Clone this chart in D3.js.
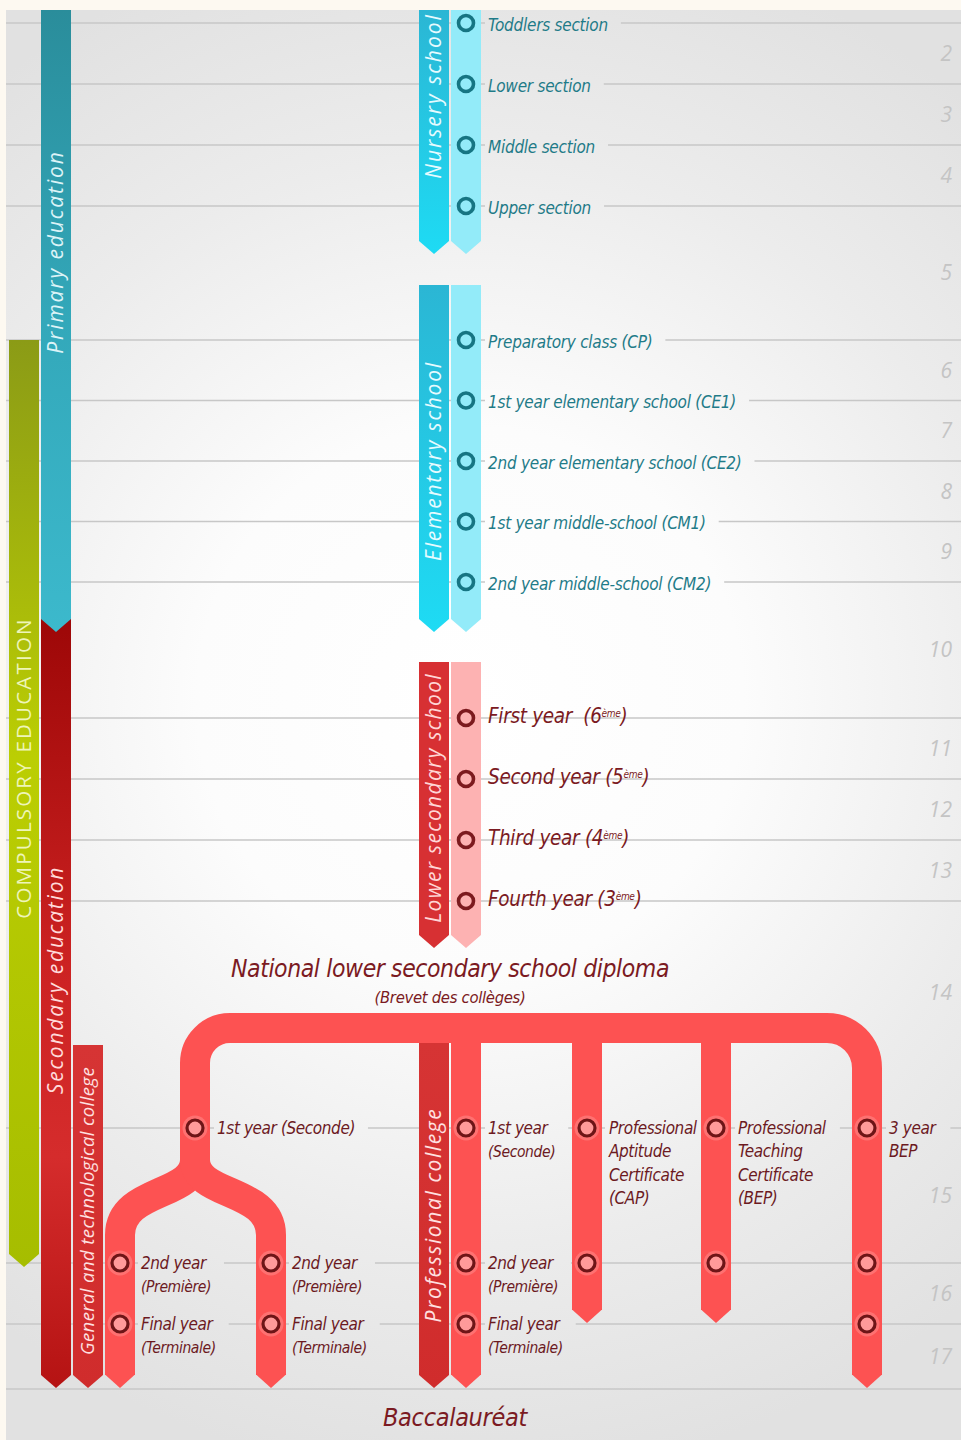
<!DOCTYPE html>
<html>
<head>
<meta charset="utf-8">
<script src="https://cdnjs.cloudflare.com/ajax/libs/d3/7.8.5/d3.min.js"></script>
<style>
body { margin: 0; background: #fdf9f1; }
svg { display: block; }
</style>
</head>
<body>
<svg id="chart" width="961" height="1440"></svg>
<script>
// ages shown on the right, one per school year row
var ages = d3.range(2, 18);

// nursery school
var nurseryRows = ["Toddlers section", "Lower section", "Middle section", "Upper section"];
var nurseryAges = [2, 3, 4, 5];

// elementary school
var elemRows = ["Preparatory class (CP)", "1st year elementary school (CE1)", "2nd year elementary school (CE2)",
                "1st year middle-school (CM1)", "2nd year middle-school (CM2)"];
var elemAges = [6, 7, 8, 9, 10];

// lower secondary school (collège)
var collegeRows = ["First year", "Second year", "Third year", "Fourth year"];
var collegeGrades = ["6", "5", "4", "3"];
var collegeAges = [11, 12, 13, 14];

// upper secondary
var lyceeRows = [["1st year", "(Seconde)"], ["2nd year", "(Première)"], ["Final year", "(Terminale)"]];
var lyceeAges = [15, 16, 17];
var vocLabels = [["Professional", "Aptitude", "Certificate", "(CAP)"],
                 ["Professional", "Teaching", "Certificate", "(BEP)"],
                 ["3 year", "BEP"]];
var vocYears = [2, 2, 3];

var W = 961, H = 1440;
var svg = d3.select("#chart");
var defs = svg.append("defs");

// age -> vertical position (the sections are spaced apart)
var y = d3.scaleLinear()
    .domain([2, 5, 6, 10, 11, 14, 15, 16, 17, 18])
    .range([23, 206, 340, 582, 718, 901, 1128, 1263, 1324, 1389]);

var narrow = "'Liberation Sans Narrow','DejaVu Sans Condensed',sans-serif";
var wide = "'Open Sans','Noto Sans',sans-serif";

function vGrad(id, stops) {
    var g = defs.append("linearGradient").attr("id", id)
        .attr("x1", 0).attr("y1", 0).attr("x2", 0).attr("y2", 1);
    stops.forEach(function (s) {
        g.append("stop").attr("offset", s[0]).attr("stop-color", s[1]);
    });
}
vGrad("gPrimary", [[0, "#2a8d9b"], [0.5, "#33a8ba"], [1, "#3cb9cc"]]);
vGrad("gSecondary", [[0, "#9d0707"], [0.45, "#cc2222"], [0.7, "#d52c2c"], [1, "#b51313"]]);
vGrad("gCompulsory", [[0, "#8b9b16"], [0.45, "#bbce03"], [1, "#a6bd00"]]);
vGrad("gNursery", [[0, "#2bb6d4"], [1, "#1edbf4"]]);
vGrad("gRedDark", [[0, "#d63434"], [1, "#d02c2c"]]);

var rg = defs.append("radialGradient").attr("id", "page")
    .attr("gradientUnits", "userSpaceOnUse")
    .attr("cx", 470).attr("cy", 700).attr("r", 780);
[[0, "#ffffff"], [0.35, "#fcfcfc"], [0.7, "#ececec"], [1, "#e1e1e1"]].forEach(function (s) {
    rg.append("stop").attr("offset", s[0]).attr("stop-color", s[1]);
});

svg.append("rect").attr("x", 6).attr("y", 10).attr("width", W - 6).attr("height", H - 10)
    .attr("fill", "url(#page)");

// row lines (masked around the labels later)
var mask = defs.append("mask").attr("id", "lineMask")
    .attr("maskUnits", "userSpaceOnUse").attr("x", 0).attr("y", 0).attr("width", W).attr("height", H);
mask.append("rect").attr("width", W).attr("height", H).attr("fill", "#fff");

svg.append("g").attr("mask", "url(#lineMask)")
    .selectAll("line").data(d3.range(2, 19)).join("line")
    .attr("x1", 6).attr("x2", W)
    .attr("y1", function (d) { return y(d); }).attr("y2", function (d) { return y(d); })
    .attr("stroke", "#c7c7c7").attr("stroke-width", 1.6);

// age numbers
svg.append("g").selectAll("text").data(ages).join("text")
    .attr("x", 952)
    .attr("y", function (d) { return d == 14 ? y(d) + 92 : (y(d) + y(d + 1)) / 2; })
    .attr("dy", "0.35em")
    .attr("text-anchor", "end")
    .style("font-family", wide).style("font-style", "italic").style("font-size", "21px")
    .attr("fill", "#c4c4c4")
    .text(function (d) { return d; });

// ribbon with a chevron end
function ribbon(x0, top, bottom, fill) {
    var w = 30, n = 13;
    var p = d3.path();
    p.moveTo(x0, top); p.lineTo(x0 + w, top); p.lineTo(x0 + w, bottom - n);
    p.lineTo(x0 + w / 2, bottom); p.lineTo(x0, bottom - n); p.closePath();
    return svg.append("path").attr("d", p.toString()).attr("fill", fill);
}
function ribbonLabel(cx, cy, txt, color, size, spacing, italic) {
    svg.append("text")
        .attr("transform", "translate(" + cx + "," + cy + ") rotate(-90)")
        .attr("text-anchor", "middle").attr("dy", "0.35em")
        .style("font-family", wide).style("font-size", size + "px")
        .style("font-style", italic ? "italic" : "normal")
        .style("letter-spacing", spacing + "px")
        .attr("fill", color).text(txt);
}

// left-hand level ribbons
ribbon(9, y(6), y(16) + 4, "url(#gCompulsory)");
ribbonLabel(24, 768, "COMPULSORY EDUCATION", "#eef5b8", 20.5, 2.2, false);
ribbon(41, 618, y(18) - 1, "url(#gSecondary)");
ribbonLabel(56, 980, "Secondary education", "#ffdada", 21, 1.8, true);
ribbon(41, 10, y(10) + 50, "url(#gPrimary)");
ribbonLabel(56, 252, "Primary education", "#dcf3f7", 21, 1.9, true);

// school ribbons: dark label ribbon + light year ribbon
function school(top, bottom, dark, light, label, labelY, labelColor, spacing) {
    ribbon(419, top, bottom, dark);
    ribbon(451, top, bottom, light);
    ribbonLabel(434, labelY, label, labelColor, 21, spacing, true);
}
school(10, y(5) + 48, "url(#gNursery)", "#93ebf9", "Nursery school", 96, "#e6fbff", 2);
school(y(6) - 55, y(10) + 50, "url(#gNursery)", "#93ebf9", "Elementary school", 461, "#e6fbff", 1.8);
school(y(11) - 56, y(14) + 47, "#d73033", "#fdb2b2", "Lower secondary school", 798, "#ffd6d6", 1.3);

var maskTexts = [];

function rowCircle(cx, cy, fill, stroke) {
    svg.append("circle").attr("cx", cx).attr("cy", cy).attr("r", 7.5)
        .attr("fill", fill).attr("stroke", stroke).attr("stroke-width", 3.6);
}

nurseryRows.concat(elemRows).forEach(function (d, i) {
    var a = nurseryAges.concat(elemAges)[i];
    rowCircle(466, y(a), "#93ebf9", "#167583");
    var t = svg.append("text").attr("x", 488).attr("y", y(a) + 2).attr("dy", "0.35em")
        .style("font-family", narrow).style("font-style", "italic").style("font-size", "17px")
        .style("letter-spacing", "-0.25px")
        .attr("fill", "#1f7b88").text(d);
    maskTexts.push(t);
});

collegeRows.forEach(function (d, i) {
    var a = collegeAges[i];
    rowCircle(466, y(a), "#fdb2b2", "#7c1a1e");
    var t = svg.append("text").attr("x", 488).attr("y", y(a) - 2).attr("dy", "0.35em")
        .style("font-family", narrow).style("font-style", "italic").style("font-size", "20.5px")
        .style("letter-spacing", "-0.3px").style("white-space", "pre")
        .attr("fill", "#7b1a22");
    t.append("tspan").text(d + (i == 0 ? "  (" : " (") + collegeGrades[i]);
    t.append("tspan").attr("dy", -6).style("font-size", "10px").text("ème");
    t.append("tspan").attr("dy", 6).text(")");
});

svg.append("text").attr("x", 450).attr("y", 968).attr("dy", "0.35em").attr("text-anchor", "middle")
    .style("font-family", narrow).style("font-style", "italic").style("font-size", "24.5px")
    .style("letter-spacing", "-0.4px")
    .attr("fill", "#7b1a22").text("National lower secondary school diploma");
svg.append("text").attr("x", 450).attr("y", 997).attr("dy", "0.35em").attr("text-anchor", "middle")
    .style("font-family", narrow).style("font-style", "italic").style("font-size", "16.5px")
    .style("letter-spacing", "-0.3px")
    .attr("fill", "#7b1a22").text("(Brevet des collèges)");

// upper secondary ribbons
ribbon(73, 1045, y(18) - 1, "url(#gRedDark)");
ribbonLabel(88, 1211, "General and technological college", "#ffe0e0", 18.5, 0.4, true);
ribbon(419, 1043, y(18) - 1, "url(#gRedDark)");
ribbonLabel(434, 1215, "Professional college", "#ffe0e0", 21, 1.6, true);

// the tree of tracks after the brevet
var tubeColor = "#fd5252", bandY = 1028, xGen = 195, xL = 120, xR = 271, xPro = 466;
var xVoc = [587, 716, 867];
var tree = svg.append("g").attr("fill", "none").attr("stroke", tubeColor).attr("stroke-width", 30);
var p = d3.path();
p.moveTo(xGen, 1165); p.lineTo(xGen, bandY + 35);
p.arcTo(xGen, bandY, xGen + 35, bandY, 35);
p.lineTo(xVoc[2] - 40, bandY);
p.arcTo(xVoc[2], bandY, xVoc[2], bandY + 40, 40);
p.lineTo(xVoc[2], y(15 + vocYears[2]) - 14);
tree.append("path").attr("d", p.toString());
[xL, xR].forEach(function (x) {
    var q = d3.path();
    q.moveTo(xGen, 1160);
    q.bezierCurveTo(xGen, 1197, x, 1188, x, 1235);
    q.lineTo(x, y(18) - 14);
    tree.append("path").attr("d", q.toString());
});
[xPro, xVoc[0], xVoc[1]].forEach(function (x, i) {
    var end = i == 0 ? y(18) : y(15 + vocYears[i - 1]);
    tree.append("line").attr("x1", x).attr("x2", x).attr("y1", bandY).attr("y2", end - 14);
});
// chevron tips
var tips = [[xL, y(18)], [xR, y(18)], [xPro, y(18)]].concat(xVoc.map(function (x, i) {
    return [x, y(15 + vocYears[i])];
}));
svg.append("g").selectAll("path").data(tips).join("path")
    .attr("d", function (d) {
        return "M" + (d[0] - 15) + "," + (d[1] - 14.5) + "H" + (d[0] + 15) + "L" + d[0] + "," + (d[1] - 1) + "Z";
    })
    .attr("fill", tubeColor);

function treeCircle(cx, cy) {
    svg.append("circle").attr("cx", cx).attr("cy", cy).attr("r", 12.5).attr("fill", "#ff8a8a").attr("opacity", 0.55);
    svg.append("circle").attr("cx", cx).attr("cy", cy).attr("r", 8)
        .attr("fill", "#ff9a9a").attr("stroke", "#6e1517").attr("stroke-width", 3.2);
}
function treeLabel(x, y0, lines) {
    var t = svg.append("text").attr("x", x).attr("y", y0)
        .style("font-family", narrow).style("font-style", "italic").style("letter-spacing", "-0.4px")
        .attr("fill", "#6c1a1f");
    lines.forEach(function (l, i) {
        t.append("tspan").attr("x", x).attr("dy", i == 0 ? "0.35em" : 23.5)
            .style("font-size", (l.charAt(0) == "(" && i > 0 && lines.length == 2 ? 15.5 : 17) + "px").text(l);
    });
    maskTexts.push(t);
}

// general track
treeCircle(xGen, y(15));
treeLabel(xGen + 22, y(15), [lyceeRows[0].join(" ")]);
[xL, xR].forEach(function (x) {
    lyceeAges.slice(1).forEach(function (a, i) {
        treeCircle(x, y(a));
        treeLabel(x + 21, y(a), lyceeRows[i + 1]);
    });
});
// professional baccalaureate
lyceeAges.forEach(function (a, i) {
    treeCircle(xPro, y(a));
    treeLabel(xPro + 22, y(a), lyceeRows[i]);
});
// vocational certificates
xVoc.forEach(function (x, i) {
    d3.range(vocYears[i]).forEach(function (k) { treeCircle(x, y(15 + k)); });
    treeLabel(x + 22, y(15), vocLabels[i]);
});

svg.append("text").attr("x", 455).attr("y", 1417).attr("dy", "0.35em").attr("text-anchor", "middle")
    .style("font-family", narrow).style("font-style", "italic").style("font-size", "25px")
    .style("letter-spacing", "-0.3px")
    .attr("fill", "#7b1a22").text("Baccalauréat");

// cut the row lines around the labels
maskTexts.forEach(function (t) {
    var b = t.node().getBBox();
    mask.append("rect").attr("x", b.x - 3).attr("y", b.y - 2)
        .attr("width", b.width + 16).attr("height", b.height + 4).attr("fill", "#000");
});
</script>
</body>
</html>
